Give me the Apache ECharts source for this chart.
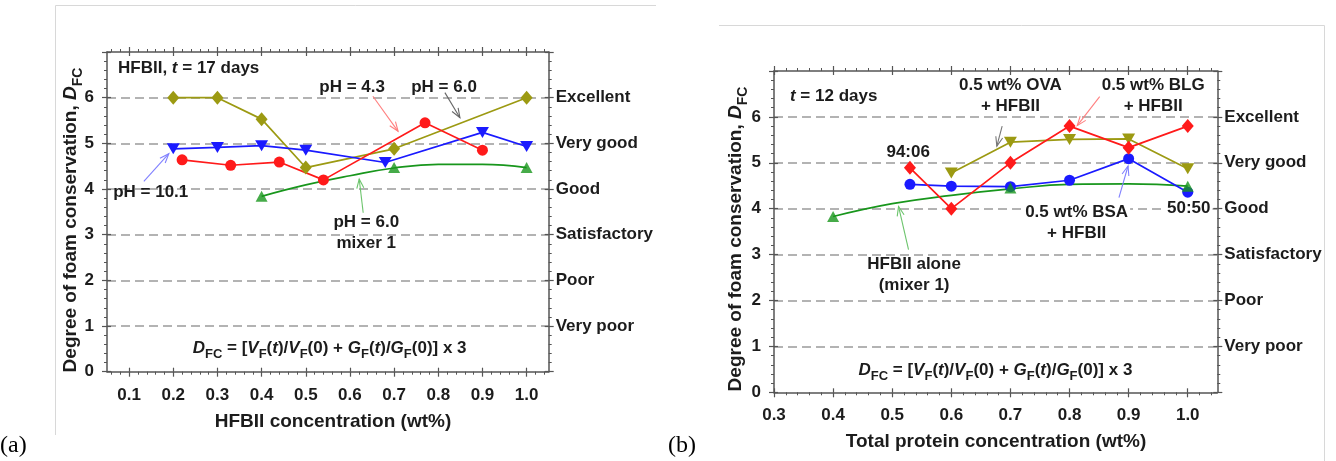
<!DOCTYPE html>
<html><head><meta charset="utf-8">
<script src="https://cdn.jsdelivr.net/npm/echarts@6/dist/echarts.min.js"></script>
<style>html,body{margin:0;padding:0;background:#fff}#c{width:1336px;height:461px}</style>
</head><body><div id="c"></div>
<script>
// ===== Tick labels =====
const xTicksA = [0.1,0.2,0.3,0.4,0.5,0.6,0.7,0.8,0.9,1.0];
const xTicksB = [0.3,0.4,0.5,0.6,0.7,0.8,0.9,1.0];
const ratingLabels = ['', 'Very poor', 'Poor', 'Satisfactory', 'Good', 'Very good', 'Excellent'];

// ===== Panel (a): HFBII, t = 17 days =====
const aPH60x   = [0.2, 0.3, 0.4, 0.5, 0.7, 1.0];
const aPH60y   = [6.0, 6.0, 5.53, 4.47, 4.88, 6.0];
const aPH101x  = [0.2, 0.3, 0.4, 0.5, 0.68, 0.9, 1.0];
const aPH101y  = [4.88, 4.91, 4.95, 4.85, 4.58, 5.24, 4.93];
const aPH43x   = [0.22, 0.33, 0.44, 0.54, 0.77, 0.9];
const aPH43y   = [4.64, 4.52, 4.59, 4.20, 5.45, 4.85];
const aMixX    = [0.4, 0.7, 1.0];
const aMixY    = [3.84, 4.47, 4.47];
const aFitX    = [0.4, 0.5, 0.6, 0.7, 0.8, 0.9, 1.0];
const aFitY    = [3.84, 4.09, 4.29, 4.46, 4.54, 4.54, 4.47];

// ===== Panel (b): t = 12 days =====
const bBLGx = [0.53, 0.6, 0.7, 0.8, 0.9, 1.0];
const bBLGy = [4.89, 4.0, 5.0, 5.80, 5.33, 5.80];
const bOVAx = [0.6, 0.7, 0.8, 0.9, 1.0];
const bOVAy = [4.78, 5.45, 5.51, 5.52, 4.87];
const bBSAx = [0.53, 0.6, 0.7, 0.8, 0.9, 1.0];
const bBSAy = [4.53, 4.49, 4.48, 4.62, 5.09, 4.36];
const bMixX = [0.4, 0.7, 1.0];
const bMixY = [3.83, 4.45, 4.49];
const bFitX = [0.4, 0.5, 0.6, 0.7, 0.8, 0.9, 1.0];
const bFitY = [3.83, 4.11, 4.29, 4.43, 4.53, 4.54, 4.49];

// ===== styling =====
const FONT = '"Liberation Sans", Arial, sans-serif';
const TXT = '#1c1c1c';
const AX = '#555555';
const RED = '#ff1a1a', BLUE = '#1a1aff', OLIVE = '#9c9a12', GREEN = '#18961c';

function minorList(lo, hi, step, majors) {
  const out = [];
  for (let k = Math.ceil(lo / step - 1e-9); k * step <= hi + 1e-9; k++) {
    const v = +(k * step).toFixed(4);
    if (!majors.some(m => Math.abs(m - v) < 1e-6)) out.push(v);
  }
  return out;
}
const zip = (xs, ys) => xs.map((x, i) => [x, ys[i]]);

function xAxes(gi, min, max, majors) {
  const minors = minorList(min, max, 0.02, majors);
  const base = {type: 'value', gridIndex: gi, min, max, splitLine: {show: false}};
  const line = {show: true, onZero: false, lineStyle: {color: AX, width: 1.5}};
  return [
    Object.assign({}, base, {position: 'bottom', axisLine: line,
      axisTick: {show: true, customValues: majors, length: 5, lineStyle: {color: AX, width: 1.2}},
      axisLabel: {show: true, customValues: majors, formatter: v => v.toFixed(1), margin: 15,
        fontSize: 17, fontWeight: 'bold', color: TXT, fontFamily: FONT}}),
    Object.assign({}, base, {position: 'bottom', axisLine: {show: false, onZero: false},
      axisTick: {show: true, customValues: minors, length: 3, lineStyle: {color: AX, width: 1}},
      axisLabel: {show: false}}),
    Object.assign({}, base, {position: 'top', axisLine: line,
      axisTick: {show: true, customValues: majors, length: 5, lineStyle: {color: AX, width: 1.2}},
      axisLabel: {show: false}}),
    Object.assign({}, base, {position: 'top', axisLine: {show: false, onZero: false},
      axisTick: {show: true, customValues: minors, length: 3, lineStyle: {color: AX, width: 1}},
      axisLabel: {show: false}})
  ];
}
function xInside(gi, min, max, majors) {
  const base = {type: 'value', gridIndex: gi, min, max, splitLine: {show: false},
    axisLine: {show: false, onZero: false}, axisLabel: {show: false}};
  return ['bottom', 'top'].map(p => Object.assign({}, base, {position: p,
    axisTick: {show: true, inside: true, customValues: majors, length: 4, lineStyle: {color: AX, width: 1.2}}}));
}
function yAxes(gi) {
  const common = {type: 'value', gridIndex: gi, min: 0, max: 7, interval: 1,
    axisLine: {show: true, onZero: false, lineStyle: {color: AX, width: 1.5}},
    axisTick: {show: true, length: 5, lineStyle: {color: AX, width: 1.2}},
    minorTick: {show: true, splitNumber: 5, length: 3, lineStyle: {color: AX, width: 1}}};
  return [
    Object.assign({}, common, {position: 'left',
      axisLabel: {formatter: v => (v <= 6 ? String(v) : ''), margin: 13, fontSize: 17, fontWeight: 'bold', color: TXT, fontFamily: FONT},
      splitLine: {show: true, showMinLine: false, showMaxLine: false, lineStyle: {color: '#9a9a9a', width: 1.5, type: [9, 5]}}}),
    Object.assign({}, common, {position: 'right',
      axisLabel: {formatter: v => ratingLabels[v] || '', margin: 7, fontSize: 17, fontWeight: 'bold', color: TXT, fontFamily: FONT},
      splitLine: {show: false}})
  ];
}
function yInside(gi) {
  const base = {type: 'value', gridIndex: gi, min: 0, max: 7, interval: 1, splitLine: {show: false},
    axisLine: {show: false, onZero: false}, axisLabel: {show: false},
    axisTick: {show: true, inside: true, length: 4, lineStyle: {color: AX, width: 1.2}}};
  return ['left', 'right'].map(p => Object.assign({}, base, {position: p}));
}
function lineS(xs, ys, color, symbol, size, rot, xi, yi) {
  return {type: 'line', xAxisIndex: xi, yAxisIndex: yi, data: zip(xs, ys), symbol, symbolSize: size,
    symbolRotate: rot || 0, showSymbol: true, lineStyle: {color, width: 1.7}, itemStyle: {color}, z: 5, animation: false};
}
function fitS(xs, ys, xi, yi) {
  return {type: 'line', xAxisIndex: xi, yAxisIndex: yi, data: zip(xs, ys), smooth: 0.45, symbol: 'none',
    lineStyle: {color: GREEN, width: 1.7}, z: 4, animation: false};
}
function markS(xs, ys, xi, yi) {
  return {type: 'scatter', xAxisIndex: xi, yAxisIndex: yi, data: zip(xs, ys), symbol: 'triangle',
    symbolSize: [12, 11], itemStyle: {color: GREEN}, z: 6, animation: false};
}

const chart = echarts.init(document.getElementById('c'));
chart.setOption({
  backgroundColor: '#ffffff',
  animation: false,
  grid: [
    {left: 107, top: 52, width: 441.7, height: 319.7},
    {left: 774, top: 71, width: 443.3, height: 321.3}
  ],
  xAxis: [...xAxes(0, 0.05, 1.05, xTicksA), ...xAxes(1, 0.3, 1.05, xTicksB),
          ...xInside(0, 0.05, 1.05, xTicksA), ...xInside(1, 0.3, 1.05, xTicksB)],
  yAxis: [...yAxes(0), ...yAxes(1), ...yInside(0), ...yInside(1)],
  series: [
    fitS(aFitX, aFitY, 0, 0),
    markS(aMixX, aMixY, 0, 0),
    lineS(aPH60x, aPH60y, OLIVE, 'diamond', [12, 14], 0, 0, 0),
    lineS(aPH101x, aPH101y, BLUE, 'triangle', [13, 11], 180, 0, 0),
    lineS(aPH43x, aPH43y, RED, 'circle', 11, 0, 0, 0),
    fitS(bFitX, bFitY, 4, 2),
    markS(bMixX, bMixY, 4, 2),
    lineS(bOVAx, bOVAy, OLIVE, 'triangle', [13, 11], 180, 4, 2),
    lineS(bBSAx, bBSAy, BLUE, 'circle', 11, 0, 4, 2),
    lineS(bBLGx, bBLGy, RED, 'diamond', [12, 14], 0, 4, 2)
  ]
});

// ===== annotations (positioned in data coordinates) =====
function richSet(size, sub, lh) {
  return {
    n: {fontSize: size, fontWeight: 'bold', fontFamily: FONT, fill: TXT, lineHeight: lh},
    i: {fontSize: size, fontWeight: 'bold', fontStyle: 'italic', fontFamily: FONT, fill: TXT, lineHeight: lh},
    s: {fontSize: sub, fontWeight: 'bold', fontFamily: FONT, fill: TXT, lineHeight: sub, verticalAlign: 'bottom'}
  };
}
const R17 = richSet(17, 13, 26);
const R19 = richSet(19, 14, 28);
const FORMULA = '{i|D}{s|FC}{n| = [}{i|V}{s|F}{n|(}{i|t}{n|)/}{i|V}{s|F}{n|(0) + }{i|G}{s|F}{n|(}{i|t}{n|)/}{i|G}{s|F}{n|(0)] x 3}';

const annA = [
  {x: 0.075, y: 6.64, text: '{n|HFBII, }{i|t}{n| = 17 days}', align: 'left'},
  {x: 0.605, y: 6.22, text: 'pH = 4.3'},
  {x: 0.813, y: 6.22, text: 'pH = 6.0'},
  {x: 0.149, y: 3.92, text: 'pH = 10.1'},
  {x: 0.637, y: 3.04, text: 'pH = 6.0\nmixer 1'},
  {x: 0.554, y: 0.52, text: FORMULA}
];
const annB = [
  {x: 0.327, y: 6.45, text: '{i|t}{n| = 12 days}', align: 'left'},
  {x: 0.527, y: 5.23, text: '94:06'},
  {x: 0.700, y: 6.45, text: '0.5 wt% OVA\n+ HFBII'},
  {x: 0.9415, y: 6.45, text: '0.5 wt% BLG\n+ HFBII'},
  {x: 0.812, y: 3.69, text: '0.5 wt% BSA\n+ HFBII', bg: true},
  {x: 1.0017, y: 4.0, text: '50:50', bg: true},
  {x: 0.537, y: 2.56, text: 'HFBII alone\n(mixer 1)'},
  {x: 0.6746, y: 0.487, text: FORMULA}
];
const arrA = [
  {from: [0.1334, 4.167], to: [0.190, 4.774], color: '#8080ff'},
  {from: [0.652, 6.03], to: [0.709, 5.263], color: '#ff7f7f'},
  {from: [0.815, 6.11], to: [0.849, 5.56], color: '#666666'},
  {from: [0.630, 3.48], to: [0.621, 4.22], color: '#6cc46c'}
];
const arrB = [
  {from: [0.686, 5.80], to: [0.677, 5.363], color: '#777777'},
  {from: [0.851, 6.44], to: [0.813, 5.81], color: '#ff7f7f'},
  {from: [0.8836, 4.24], to: [0.899, 4.93], color: '#8080ff'},
  {from: [0.5276, 3.107], to: [0.5107, 4.05], color: '#6cc46c'}
];

const gfx = [];
function addText(px, a) {
  const isRich = a.text.indexOf('{') >= 0;
  gfx.push({type: 'text', x: px[0], y: px[1], z: 100, style: {
    text: isRich ? a.text : a.text.split('\n').map(l => '{n|' + l + '}').join('\n'),
    rich: isRich ? R17 : Object.assign({}, R17, {n: Object.assign({}, R17.n, {lineHeight: 21})}),
    align: a.align || 'center', verticalAlign: 'middle',
    backgroundColor: a.bg ? '#ffffff' : undefined, padding: a.bg ? [0, 2] : 0
  }});
}
function addArrow(p0, p1, color) {
  const ang = Math.atan2(p1[1] - p0[1], p1[0] - p0[0]);
  const L = 10, w = 0.36;
  const h1 = [p1[0] - L * Math.cos(ang - w), p1[1] - L * Math.sin(ang - w)];
  const h2 = [p1[0] - L * Math.cos(ang + w), p1[1] - L * Math.sin(ang + w)];
  gfx.push({type: 'polyline', z: 90, shape: {points: [p0, p1]}, style: {stroke: color, lineWidth: 1.1, fill: null}});
  gfx.push({type: 'polyline', z: 90, shape: {points: [h1, p1, h2]}, style: {stroke: color, lineWidth: 1.1, fill: null}});
}
const toA = v => chart.convertToPixel({xAxisIndex: 0, yAxisIndex: 0}, v);
const toB = v => chart.convertToPixel({xAxisIndex: 4, yAxisIndex: 2}, v);
annA.forEach(a => addText(toA([a.x, a.y]), a));
annB.forEach(a => addText(toB([a.x, a.y]), a));
arrA.forEach(a => addArrow(toA(a.from), toA(a.to), a.color));
arrB.forEach(a => addArrow(toB(a.from), toB(a.to), a.color));

// axis titles
gfx.push({type: 'text', x: 333, y: 422, z: 100, style: {text: 'HFBII concentration (wt%)', fontSize: 19, fontWeight: 'bold', fontFamily: FONT, fill: TXT, align: 'center', verticalAlign: 'middle'}});
gfx.push({type: 'text', x: 996, y: 442, z: 100, style: {text: 'Total protein concentration (wt%)', fontSize: 19, fontWeight: 'bold', fontFamily: FONT, fill: TXT, align: 'center', verticalAlign: 'middle'}});
const YT = '{n|Degree of foam conservation, }{i|D}{s|FC}';
gfx.push({type: 'text', x: 71, y: 220, rotation: Math.PI / 2, z: 100, style: {text: YT, rich: R19, align: 'center', verticalAlign: 'middle'}});
gfx.push({type: 'text', x: 736, y: 239, rotation: Math.PI / 2, z: 100, style: {text: YT, rich: R19, align: 'center', verticalAlign: 'middle'}});
// panel letters
gfx.push({type: 'text', x: 0, y: 446, z: 100, style: {text: '(a)', fontSize: 24, fontFamily: '"Liberation Serif", "Times New Roman", serif', fill: '#000', align: 'left', verticalAlign: 'middle'}});
gfx.push({type: 'text', x: 668, y: 446, z: 100, style: {text: '(b)', fontSize: 24, fontFamily: '"Liberation Serif", "Times New Roman", serif', fill: '#000', align: 'left', verticalAlign: 'middle'}});
// faint panel frames
gfx.push({type: 'polyline', z: 1, shape: {points: [[55.5, 435], [55.5, 5.5], [656, 5.5]]}, style: {stroke: '#d8d8d8', lineWidth: 1, fill: null}});
gfx.push({type: 'polyline', z: 1, shape: {points: [[719, 25.5], [1324.5, 25.5], [1324.5, 461]]}, style: {stroke: '#d8d8d8', lineWidth: 1, fill: null}});

chart.setOption({graphic: {elements: gfx}});
</script>
</body></html>
